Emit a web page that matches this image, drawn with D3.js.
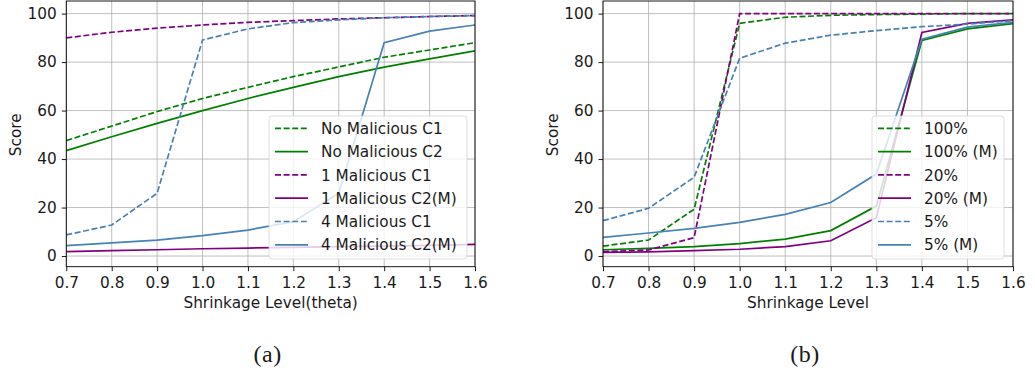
<!DOCTYPE html>
<html>
<head>
<meta charset="utf-8">
<script src="https://cdn.jsdelivr.net/npm/d3@7"></script>
<style>
  html, body { margin: 0; padding: 0; background: #fff; }
</style>
</head>
<body>
<svg id="chart" width="1035" height="373"></svg>
<script>
// Shrinkage levels on the x axis (shared by both panels)
const levels = [0.7, 0.8, 0.9, 1.0, 1.1, 1.2, 1.3, 1.4, 1.5, 1.6];
const xTicks = [0.7, 0.8, 0.9, 1.0, 1.1, 1.2, 1.3, 1.4, 1.5, 1.6];
const yTicks = [0, 20, 40, 60, 80, 100];

// Panel (a): scores by number of malicious clients
const noMaliciousC1 = [47.6, 53.6, 59.6, 65.0, 69.6, 74.0, 78.0, 82.0, 85.0, 88.0];
const noMaliciousC2 = [43.5, 49.2, 54.7, 60.0, 65.0, 69.6, 74.0, 77.9, 81.3, 84.6];
const oneMaliciousC1 = [90.0, 92.3, 94.0, 95.3, 96.4, 97.1, 97.8, 98.3, 98.8, 99.2];
const oneMaliciousC2M = [1.8, 2.2, 2.6, 3.0, 3.3, 3.6, 3.9, 4.1, 4.4, 4.8];
const fourMaliciousC1 = [8.7, 12.8, 25.9, 89.1, 93.7, 96.3, 97.4, 98.3, 98.8, 99.2];
const fourMaliciousC2M = [4.3, 5.4, 6.6, 8.4, 10.7, 14.2, 25.9, 88.0, 92.8, 95.3];

// Panel (b): scores by participation fraction
const pct100 = [4.1, 6.6, 19.3, 96.0, 98.5, 99.3, 99.6, 99.8, 100, 100];
const pct100M = [2.6, 3.2, 3.9, 5.1, 7.0, 10.5, 20.6, 88.9, 93.7, 95.9];
const pct20 = [1.8, 2.5, 7.6, 100, 100, 100, 100, 100, 100, 100];
const pct20M = [1.5, 1.7, 2.2, 2.8, 3.9, 6.3, 15.8, 92.2, 96.0, 97.4];
const pct5 = [14.6, 19.7, 32.5, 81.6, 87.8, 91.1, 93.0, 94.6, 95.7, 97.1];
const pct5M = [7.7, 9.5, 11.4, 13.9, 17.2, 22.1, 33.8, 89.4, 94.4, 96.4];

const GREEN = "#008000", PURPLE = "#800080", BLUE = "#4682b4";
const SANS = "'DejaVu Sans', sans-serif";
const FS = "15.3px";

const panels = [
  {
    id: "a",
    x0: 66.3, x1: 475,
    xLabel: "Shrinkage Level(theta)",
    yLabelX: 20.7,
    caption: "(a)",
    legend: { x: 269, y: 116, w: 198, h: 143 },
    series: [
      { name: "No Malicious C1", values: noMaliciousC1, color: GREEN, dashed: true },
      { name: "No Malicious C2", values: noMaliciousC2, color: GREEN, dashed: false },
      { name: "1 Malicious C1", values: oneMaliciousC1, color: PURPLE, dashed: true },
      { name: "1 Malicious C2(M)", values: oneMaliciousC2M, color: PURPLE, dashed: false },
      { name: "4 Malicious C1", values: fourMaliciousC1, color: BLUE, dashed: true },
      { name: "4 Malicious C2(M)", values: fourMaliciousC2M, color: BLUE, dashed: false }
    ]
  },
  {
    id: "b",
    x0: 603, x1: 1013,
    xLabel: "Shrinkage Level",
    yLabelX: 557.5,
    caption: "(b)",
    legend: { x: 872, y: 116, w: 132, h: 143 },
    series: [
      { name: "100%", values: pct100, color: GREEN, dashed: true },
      { name: "100% (M)", values: pct100M, color: GREEN, dashed: false },
      { name: "20%", values: pct20, color: PURPLE, dashed: true },
      { name: "20% (M)", values: pct20M, color: PURPLE, dashed: false },
      { name: "5%", values: pct5, color: BLUE, dashed: true },
      { name: "5% (M)", values: pct5M, color: BLUE, dashed: false }
    ]
  }
];

const svg = d3.select("#chart");
const yTop = 1, yBottom = 266.7;
const DASH = "6,2.6";
const LW = 1.7;
const TEXT = "#1a1a1a";

panels.forEach(p => {
  const x = d3.scaleLinear().domain([0.7, 1.6]).range([p.x0, p.x1]);
  const y = d3.scaleLinear().domain([-4.4, 105.2]).range([yBottom, yTop]);
  const g = svg.append("g");

  // clip region for the plot area
  const clipId = "clip-" + p.id;
  svg.append("clipPath").attr("id", clipId)
    .append("rect")
    .attr("x", p.x0).attr("y", yTop)
    .attr("width", p.x1 - p.x0).attr("height", yBottom - yTop);

  // grid
  g.append("g").selectAll("line").data(xTicks).join("line")
    .attr("x1", d => x(d)).attr("x2", d => x(d))
    .attr("y1", yTop).attr("y2", yBottom)
    .attr("stroke", "#b0b0b0").attr("stroke-width", 0.8);
  g.append("g").selectAll("line").data(yTicks).join("line")
    .attr("x1", p.x0).attr("x2", p.x1)
    .attr("y1", d => y(d)).attr("y2", d => y(d))
    .attr("stroke", "#b0b0b0").attr("stroke-width", 0.8);

  // series lines
  const line = d3.line().x((d, i) => x(levels[i])).y(d => y(d));
  g.append("g").attr("clip-path", `url(#${clipId})`)
    .selectAll("path").data(p.series).join("path")
    .attr("d", s => line(s.values))
    .attr("fill", "none")
    .attr("stroke", s => s.color)
    .attr("stroke-width", LW)
    .attr("stroke-dasharray", s => s.dashed ? DASH : null);

  // axes
  const xAxis = d3.axisBottom(x).tickValues(xTicks).tickFormat(d3.format(".1f"))
    .tickSize(4.5).tickPadding(5.5);
  const yAxis = d3.axisLeft(y).tickValues(yTicks).tickFormat(d3.format("d"))
    .tickSize(4.5).tickPadding(5);
  const gx = g.append("g").attr("transform", `translate(0,${yBottom})`).call(xAxis);
  const gy = g.append("g").attr("transform", `translate(${p.x0},0)`).call(yAxis);
  [gx, gy].forEach(a => {
    a.attr("font-family", null).attr("font-size", null);
    a.select(".domain").remove();
    a.selectAll("line").attr("stroke", "#000").attr("stroke-width", 0.9);
    a.selectAll("text")
      .style("font-family", SANS).style("font-size", FS).attr("fill", TEXT);
  });

  // frame
  g.append("rect")
    .attr("x", p.x0).attr("y", yTop)
    .attr("width", p.x1 - p.x0).attr("height", yBottom - yTop)
    .attr("fill", "none").attr("stroke", "#000").attr("stroke-width", 0.9);

  // axis titles
  g.append("text")
    .attr("x", (p.x0 + p.x1) / 2).attr("y", 308)
    .attr("text-anchor", "middle")
    .style("font-family", SANS).style("font-size", FS).attr("fill", TEXT)
    .text(p.xLabel);
  g.append("text")
    .attr("transform", `translate(${p.yLabelX},${y(50)}) rotate(-90)`)
    .attr("text-anchor", "middle")
    .style("font-family", SANS).style("font-size", FS).attr("fill", TEXT)
    .text("Score");

  // legend
  const L = p.legend;
  const lg = g.append("g");
  lg.append("rect")
    .attr("x", L.x).attr("y", L.y).attr("width", L.w).attr("height", L.h)
    .attr("rx", 3).attr("fill", "#fff").attr("fill-opacity", 0.8)
    .attr("stroke", "#d6d6d6").attr("stroke-width", 0.8);
  const rows = lg.selectAll("g.row").data(p.series).join("g")
    .attr("class", "row")
    .attr("transform", (s, i) => `translate(${L.x},${L.y + 12.3 + i * 23.3})`);
  rows.append("line")
    .attr("x1", 6).attr("x2", 39).attr("y1", 0).attr("y2", 0)
    .attr("stroke", s => s.color).attr("stroke-width", LW)
    .attr("stroke-dasharray", s => s.dashed ? DASH : null);
  rows.append("text")
    .attr("x", 52).attr("y", 5.6)
    .style("font-family", SANS).style("font-size", FS).attr("fill", TEXT)
    .text(s => s.name);

  // caption
  svg.append("text")
    .attr("x", (p.x0 + p.x1) / 2 - 3).attr("y", 362)
    .attr("text-anchor", "middle")
    .style("font-family", "'Liberation Serif', serif")
    .style("font-size", "24px")
    .style("letter-spacing", "0.5px")
    .attr("fill", TEXT)
    .text(p.caption);
});
</script>
</body>
</html>
